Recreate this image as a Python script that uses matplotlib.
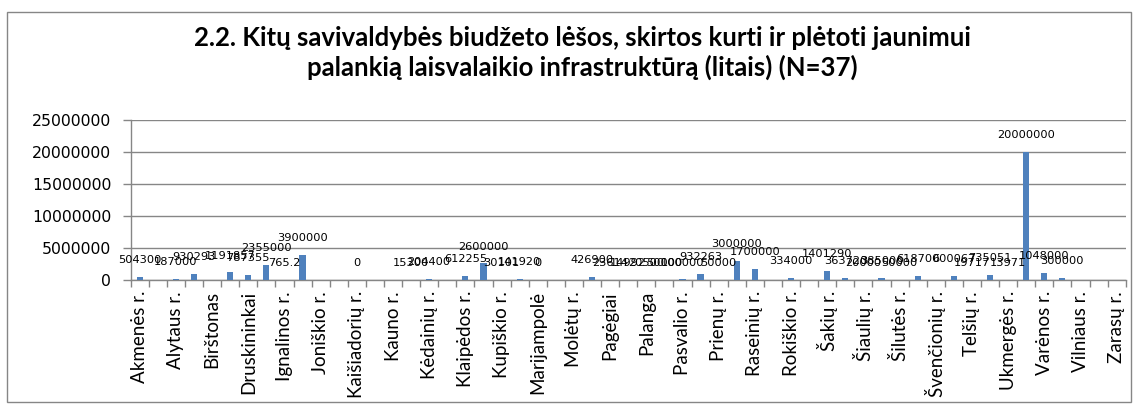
import matplotlib
matplotlib.use("Agg")
import matplotlib.pyplot as plt
import matplotlib.patches as mpatches
import numpy as np

# ---- data ----
categories = [
    "Akmenės r.", "Alytaus m.", "Alytaus r.", "Anykščių r.", "Birštonas", "Biržų r.",
    "Druskininkai", "Elektrėnai", "Ignalinos r.", "Jonavos r.", "Joniškio r.", "Jurbarko r.",
    "Kaišiadorių r.", "Kalvarija", "Kauno r.", "Kazlų Rūda", "Kėdainių r.", "Kelmės r.",
    "Klaipėdos r.", "Kretingos r.", "Kupiškio r.", "Lazdijų r.", "Marijampolė", "Mažeikių r.",
    "Molėtų r.", "Neringa", "Pagėgiai", "Pakruojo r.", "Palanga", "Panevėžio r.",
    "Pasvalio r.", "Plungės r.", "Prienų r.", "Radviliškio r.", "Raseinių r.", "Rietavas",
    "Rokiškio r.", "Skuodo r.", "Šakių r.", "Šalčininkų r.", "Šiaulių r.", "Šilalės r.",
    "Šilutės r.", "Širvintų r.", "Švenčionių r.", "Tauragės r.", "Telšių r.", "Trakų r.",
    "Ukmergės r.", "Utenos r.", "Varėnos r.", "Vilkaviškio r.", "Vilniaus r.", "Visaginas",
    "Zarasų r.",
]
nan = float("nan")
values = [
    504300, nan, 187000, 930293, nan, 1191857,
    787355, 2355000, 765.2, 3900000, nan, nan,
    0, nan, nan, 15300, 204400, nan,
    612255, 2600000, 30101, 141920, 0, nan,
    nan, 426900, 23614, 14992, 20500, 50000,
    100000, 932263, 50000, 3000000, 1700000, nan,
    334000, nan, 1401290, 363720, 20000, 385000,
    50000, 618700, nan, 600067, 19717, 735051,
    13971, 20000000, 1048000, 300000, nan, nan,
    nan,
]
y_ticks = [0, 5000000, 10000000, 15000000, 20000000, 25000000]
title = ("2.2. Kitų savivaldybės biudžeto lėšos, skirtos kurti ir plėtoti jaunimui\n"
         "palankią laisvalaikio infrastruktūrą (litais) (N=37)")

# ---- figure ----
W, H = 1137, 405
fig = plt.figure(figsize=(W / 100, H / 100), dpi=100)
narrow = ["Lato", "DejaVu Sans"]

# outer border
fig.patches.append(mpatches.Rectangle((7 / W, 3 / H), 1124 / W, 390 / H,
                                      transform=fig.transFigure, fill=False,
                                      edgecolor="#868686", linewidth=1.0))

ax = fig.add_axes([130.7 / W, 1 - 280 / H, (1125.7 - 130.7) / W, 160 / H])
x = np.arange(len(categories))
vals = np.array(values, dtype=float)
ax.bar(x, np.where(np.isnan(vals), 0.0, vals), width=0.34,
       color="#4F81BD", zorder=3)

def fmt(v):
    if float(v).is_integer():
        return str(int(v))
    return str(v)

for xi, v in zip(x, vals):
    if np.isnan(v):
        continue
    ax.annotate(fmt(v), (xi, v), xytext=(0, 8.5), textcoords="offset points",
                ha="center", va="bottom", fontsize=8.2, color="black",
                family="DejaVu Sans", zorder=4)

ax.set_xlim(-0.5, len(categories) - 0.5)
ax.set_ylim(0, 25000000)
ax.set_yticks(y_ticks)
ax.set_yticklabels([str(t) for t in y_ticks], fontsize=11.3, family="DejaVu Sans")
ax.yaxis.grid(True, color="#868686", linewidth=1.0, zorder=0)
ax.set_axisbelow(True)

ax.set_xticks(x[::2])
ax.set_xticklabels(categories[::2], rotation=90, fontsize=13.5, family=narrow)
ax.set_xticks(np.arange(-0.5, len(categories), 1.0), minor=True)
ax.tick_params(axis="x", which="major", length=0, pad=8)
ax.tick_params(axis="x", which="minor", length=5, color="#868686", width=1.0)
ax.tick_params(axis="y", which="major", length=6, color="#868686", width=1.0, pad=8)

for s in ["top", "right"]:
    ax.spines[s].set_visible(False)
for s in ["left", "bottom"]:
    ax.spines[s].set_color("#868686")
    ax.spines[s].set_linewidth(1.0)

fig.text(582 / W, 1 - 53 / H, title, ha="center", va="center", fontsize=18.5,
         fontweight="bold", family=narrow, linespacing=1.25)

fig.savefig("out.png", dpi=100)
